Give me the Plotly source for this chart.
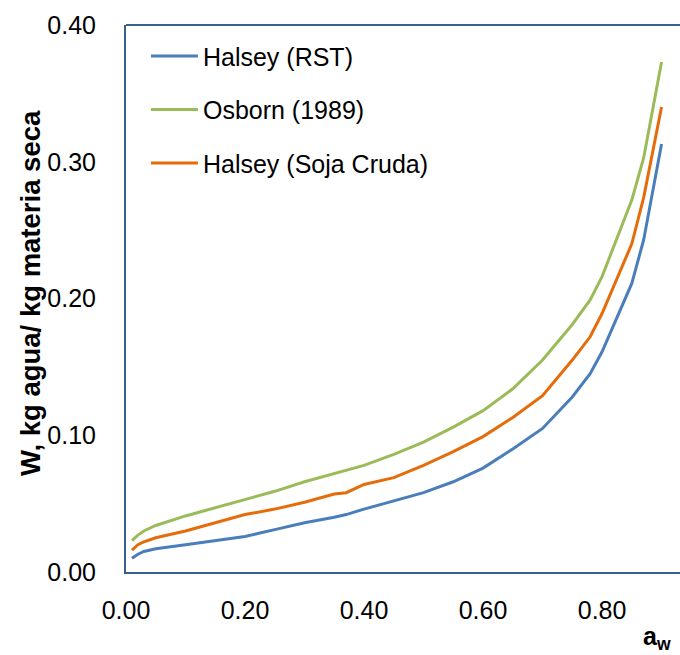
import plotly.graph_objects as go

aw = [0.01, 0.02, 0.03, 0.05, 0.10, 0.15, 0.20, 0.25, 0.30, 0.35, 0.37, 0.40,
      0.45, 0.50, 0.55, 0.60, 0.65, 0.70, 0.75, 0.78, 0.80, 0.85, 0.87, 0.90]

halsey_rst = [0.010, 0.013, 0.015, 0.017, 0.020, 0.023, 0.026, 0.031, 0.036, 0.040, 0.042, 0.046,
              0.052, 0.058, 0.066, 0.076, 0.090, 0.105, 0.128, 0.145, 0.161, 0.211, 0.243, 0.313]

osborn_1989 = [0.023, 0.027, 0.030, 0.034, 0.041, 0.047, 0.053, 0.059, 0.066, 0.072, 0.074, 0.078,
               0.086, 0.095, 0.106, 0.118, 0.134, 0.155, 0.181, 0.199, 0.216, 0.272, 0.303, 0.373]

halsey_soja = [0.016, 0.020, 0.022, 0.025, 0.030, 0.036, 0.042, 0.046, 0.051, 0.057, 0.058, 0.064,
               0.069, 0.078, 0.088, 0.099, 0.113, 0.129, 0.155, 0.172, 0.189, 0.240, 0.274, 0.340]

series_names = ["Halsey (RST)", "Osborn (1989)", "Halsey (Soja Cruda)"]
series_values = [halsey_rst, osborn_1989, halsey_soja]
colors = ["#4A7EBB", "#9BBB59", "#E46C0A"]

y_ticks = [0.0, 0.1, 0.2, 0.3, 0.4]
y_tick_labels = ["0.00", "0.10", "0.20", "0.30", "0.40"]
x_ticks = [0.0, 0.2, 0.4, 0.6, 0.8]
x_tick_labels = ["0.00", "0.20", "0.40", "0.60", "0.80"]

FONT = "Liberation Sans, Arial, sans-serif"
FRAME = "#3B5E91"
FS = 25

fig = go.Figure()
for i, (name, vals, col) in enumerate(zip(series_names, series_values, colors)):
    fig.add_trace(go.Scatter(
        x=aw, y=vals, mode="lines", name=name,
        line=dict(color=col, width=3),
        legendgroup=f"g{i}",
    ))

fig.update_layout(
    width=680, height=655,
    margin=dict(l=126, r=0, t=25, b=83),
    paper_bgcolor="white", plot_bgcolor="white",
    font=dict(family=FONT, size=FS, color="black"),
    showlegend=True,
    legend=dict(
        x=0.036, y=0.985, xanchor="left", yanchor="top",
        bgcolor="rgba(0,0,0,0)", borderwidth=0,
        font=dict(family=FONT, size=FS, color="black"),
        tracegroupgap=18, itemwidth=47,
    ),
    xaxis=dict(
        range=[0, 0.931], tickvals=x_ticks, ticktext=x_tick_labels,
        showgrid=False, zeroline=False, showline=True, linecolor=FRAME, linewidth=2,
        ticks="", ticklabelstandoff=15,
        tickfont=dict(family=FONT, size=FS, color="black"),
    ),
    yaxis=dict(
        range=[0, 0.40], tickvals=y_ticks, ticktext=y_tick_labels,
        showgrid=False, zeroline=False, showline=True, linecolor=FRAME, linewidth=2,
        ticks="", ticklabelstandoff=23,
        tickfont=dict(family=FONT, size=FS, color="black"),
    ),
    shapes=[dict(type="line", xref="paper", yref="paper", x0=0, x1=1, y0=1, y1=1,
                 line=dict(color=FRAME, width=2))],
    annotations=[
        dict(text="<b>W, kg agua/ kg materia seca</b>", xref="paper", yref="paper",
             x=-0.1733, y=0.51, xanchor="center", yanchor="middle", textangle=-90,
             showarrow=False, font=dict(family=FONT, size=27.5, color="black")),
        dict(text="<b>a<sub>w</sub></b>", xref="paper", yref="paper",
             x=0.958, y=-0.121, xanchor="center", yanchor="middle",
             showarrow=False, font=dict(family=FONT, size=FS, color="black")),
    ],
)

fig.write_html("out.html")
